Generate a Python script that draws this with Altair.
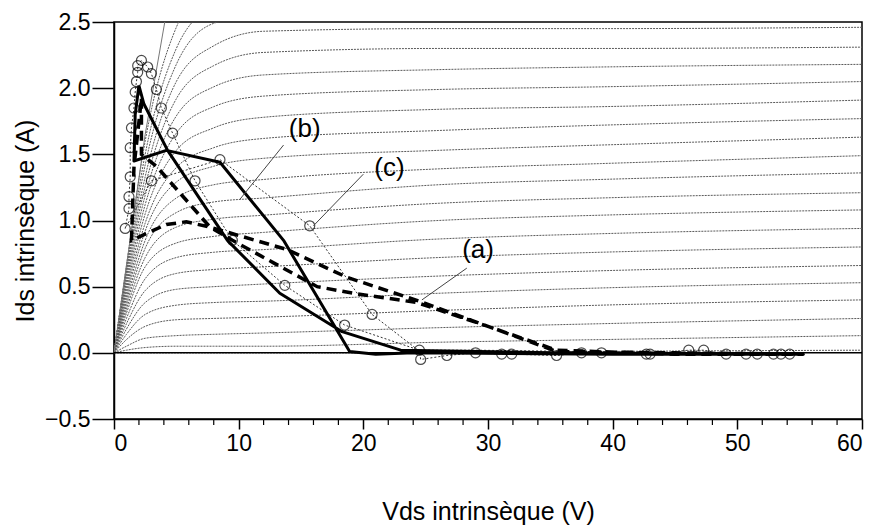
import altair as alt
import pandas as pd

# ---------------- data ----------------
bg_v = [0, 1, 2.5, 5, 8, 12, 26, 39, 60]
bg_curves = [
    [0, 0.00, 0.00, 0.00, 0.00, 0.00, 0.00, 0.01, 0.02],
    [0, 0.02, 0.04, 0.05, 0.05, 0.05, 0.08, 0.10, 0.13],
    [0, 0.05, 0.11, 0.13, 0.14, 0.15, 0.19, 0.22, 0.26],
    [0, 0.10, 0.20, 0.25, 0.26, 0.27, 0.32, 0.36, 0.40],
    [0, 0.14, 0.29, 0.36, 0.38, 0.39, 0.45, 0.49, 0.53],
    [0, 0.18, 0.38, 0.48, 0.50, 0.52, 0.58, 0.62, 0.66],
    [0, 0.22, 0.47, 0.60, 0.63, 0.65, 0.72, 0.76, 0.80],
    [0, 0.26, 0.56, 0.72, 0.76, 0.78, 0.86, 0.90, 0.94],
    [0, 0.30, 0.65, 0.83, 0.88, 0.91, 1.00, 1.04, 1.08],
    [0, 0.33, 0.72, 0.95, 1.01, 1.04, 1.13, 1.17, 1.21],
    [0, 0.36, 0.79, 1.06, 1.14, 1.17, 1.27, 1.31, 1.36],
    [0, 0.39, 0.85, 1.17, 1.27, 1.31, 1.39, 1.43, 1.49],
    [0, 0.42, 0.92, 1.29, 1.41, 1.47, 1.53, 1.57, 1.63],
    [0, 0.45, 0.98, 1.40, 1.55, 1.62, 1.68, 1.72, 1.77],
    [0, 0.48, 1.05, 1.53, 1.70, 1.78, 1.84, 1.86, 1.91],
    [0, 0.51, 1.12, 1.66, 1.86, 1.94, 1.99, 2.01, 2.05],
    [0, 0.54, 1.19, 1.79, 2.01, 2.10, 2.14, 2.16, 2.18],
    [0, 0.57, 1.26, 1.92, 2.17, 2.27, 2.30, 2.30, 2.31],
    [0, 0.60, 1.33, 2.05, 2.32, 2.43, 2.45, 2.45, 2.46],
    [0, 0.62, 1.42, 2.18, 2.49, 2.56, 2.60, 2.61, 2.62],
    [0, 0.64, 1.50, 2.30, 2.62, 2.72, 2.76, 2.77, 2.78],
    [0, 0.66, 1.60, 2.46, 2.80, 2.90, 2.94, 2.95, 2.96],
]
steep_v = [0, 1, 2.5, 5]
steep_i = [0, 0.66, 1.65, 3.0]

# load cycle (a) - dashed
a_v = [2.2, 2.2, 3.4, 7.7, 9.5, 12.8, 16.3, 19.2, 24.3, 30.0, 35.5, 45.0, 55.3,
       45.0, 35.5, 30.0, 24.5, 18.7, 13.9, 7.7, 5.8, 4.2, 1.4, 1.6, 2.2]
a_i = [1.92, 1.50, 1.41, 0.95, 0.85, 0.68, 0.50, 0.45, 0.38, 0.20, 0.02, -0.01, -0.01,
       0.00, 0.01, 0.20, 0.39, 0.57, 0.78, 0.95, 0.99, 0.97, 0.85, 1.40, 1.92]
# load cycle (b) - solid
b_v = [2.0, 2.4, 4.3, 9.1, 13.3, 18.3, 23.0, 35.0, 55.3,
       40.0, 24.0, 21.0, 18.9, 13.6, 8.5, 4.2, 1.6, 1.7, 2.0]
b_i = [2.02, 1.88, 1.53, 0.85, 0.45, 0.16, 0.02, 0.00, -0.01,
       -0.01, 0.00, -0.01, 0.01, 0.85, 1.44, 1.53, 1.45, 1.80, 2.02]
# load cycle (c) - dotted with circles
c_v = [0.9, 1.2, 1.2, 1.3, 1.3, 1.4, 1.6, 1.7, 1.8, 1.9, 1.9, 2.2,
       2.7, 3.0, 3.4, 3.8, 4.7, 6.5, 9.5, 13.7, 18.5, 24.5, 24.6, 26.7, 29.0, 31.1,
       31.9, 35.5, 37.5, 39.1, 42.7, 43.0, 46.1, 47.3, 49.1, 50.7, 51.6, 52.9, 53.5, 54.2,
       29.0, 24.4, 20.7, 15.7, 8.5, 3.0, 0.9]
c_i = [0.94, 1.09, 1.18, 1.33, 1.55, 1.70, 1.85, 1.97, 2.05, 2.12, 2.17, 2.21,
       2.16, 2.11, 1.99, 1.85, 1.66, 1.30, 0.85, 0.51, 0.21, 0.02, -0.05, -0.02, 0.00, -0.01,
       -0.01, -0.02, 0.00, 0.00, -0.01, -0.01, 0.02, 0.02, -0.01, -0.01, -0.01, -0.01, -0.01, -0.01,
       0.02, 0.02, 0.29, 0.96, 1.46, 1.30, 0.94]
c_marker = [1, 1, 1, 1, 1, 1, 1, 1, 1, 1, 1, 1,
            1, 1, 1, 1, 1, 1, 1, 1, 1, 1, 1, 1, 1, 1,
            1, 1, 1, 1, 1, 1, 1, 1, 1, 1, 1, 1, 1, 1,
            0, 0, 1, 1, 1, 1, 0]

labels = ["(a)", "(b)", "(c)"]
label_v = [29.2, 15.3, 22.1]
label_i = [0.78, 1.69, 1.40]
lead_v1 = [28.3, 13.6, 20.0]
lead_i1 = [0.64, 1.57, 1.35]
lead_v2 = [24.7, 10.1, 16.0]
lead_i2 = [0.40, 1.16, 0.96]

x_ticks = [0, 10, 20, 30, 40, 50, 60]
x_minor = [2, 4, 6, 8, 12, 14, 16, 18, 22, 24, 26, 28, 32, 34, 36, 38,
           42, 44, 46, 48, 52, 54, 56, 58]
y_ticks = [-0.5, 0.0, 0.5, 1.0, 1.5, 2.0, 2.5]

# ---------------- tables ----------------
rows = []
for k, curve in enumerate(bg_curves):
    for j, (v, i) in enumerate(zip(bg_v, curve)):
        rows.append({"curve": k, "o": j, "V": v, "I": i})
bg_df = pd.DataFrame(rows)
steep_df = pd.DataFrame({"V": steep_v, "I": steep_i, "o": range(len(steep_v))})
a_df = pd.DataFrame({"V": a_v, "I": a_i, "o": range(len(a_v))})
b_df = pd.DataFrame({"V": b_v, "I": b_i, "o": range(len(b_v))})
c_df = pd.DataFrame({"V": c_v, "I": c_i, "o": range(len(c_v)), "m": c_marker})
lab_df = pd.DataFrame({"t": labels, "V": label_v, "I": label_i})
lead_df = pd.DataFrame({"V": lead_v1, "I": lead_i1, "V2": lead_v2, "I2": lead_i2})
minor_df = pd.DataFrame({"V": x_minor})
zero_df = pd.DataFrame({"V": [0], "V2": [60], "I": [0.0]})

FONT = "Liberation Sans"
xs = alt.Scale(domain=[0, 60], nice=False, zero=False)
ys = alt.Scale(domain=[-0.5, 2.5], nice=False, zero=False)

x_axis = alt.Axis(
    values=x_ticks, format="d", title="Vds intrinsèque (V)", grid=False,
    tickSize=10, labelPadding=3, titlePadding=44, labelFontSize=23, titleFontSize=25,
    labelFont=FONT, titleFont=FONT, titleFontWeight="normal", labelColor="black",
    titleColor="black", domainColor="black", tickColor="black", domainWidth=1.5,
    tickWidth=1.5)
y_axis = alt.Axis(
    values=y_ticks, format=".1f", title="Ids intrinsèque (A)", grid=False,
    tickSize=22, labelPadding=2, titlePadding=6, labelFontSize=23, titleFontSize=25,
    labelFont=FONT, titleFont=FONT, titleFontWeight="normal", labelColor="black",
    titleColor="black", domainColor="black", tickColor="black", domainWidth=1.5,
    tickWidth=1.5)
X = alt.X("V:Q", scale=xs, axis=x_axis)
Y = alt.Y("I:Q", scale=ys, axis=y_axis)

bg = alt.Chart(bg_df).mark_line(
    color="#5a5a5a", strokeWidth=1, strokeDash=[2, 1], interpolate="monotone", clip=True
).encode(x=X, y=Y, detail="curve:N", order="o:Q")

steep = alt.Chart(steep_df).mark_line(
    color="#777777", strokeWidth=1, clip=True
).encode(x=X, y=Y, order="o:Q")

zero = alt.Chart(zero_df).mark_rule(color="black", strokeWidth=1.5).encode(
    x=X, x2="V2:Q", y=Y)

minor = alt.Chart(minor_df).mark_rule(color="black", strokeWidth=1.2).encode(
    x=X, y=alt.value(397), y2=alt.value(403))

line_c = alt.Chart(c_df).mark_line(
    color="#333333", strokeWidth=1, strokeDash=[2, 2], clip=True
).encode(x=X, y=Y, order="o:Q")
pts_c = alt.Chart(c_df).transform_filter("datum.m == 1").mark_point(
    shape="circle", filled=False, color="black", size=100, strokeWidth=1.2, clip=True
).encode(x=X, y=Y)

line_b = alt.Chart(b_df).mark_line(
    color="black", strokeWidth=3, clip=True, strokeJoin="round"
).encode(x=X, y=Y, order="o:Q")
line_a = alt.Chart(a_df).mark_line(
    color="black", strokeWidth=3.5, strokeDash=[10, 6], clip=True
).encode(x=X, y=Y, order="o:Q")

leads = alt.Chart(lead_df).mark_rule(color="#444444", strokeWidth=1).encode(
    x=X, y=Y, x2="V2:Q", y2="I2:Q")
texts = alt.Chart(lab_df).mark_text(
    font=FONT, fontSize=26, color="black", align="center", baseline="middle"
).encode(x=X, y=Y, text="t:N")

chart = alt.layer(
    bg, steep, zero, minor, line_c, pts_c, line_a, line_b, leads, texts
).properties(
    width=748, height=397,
    autosize=alt.AutoSizeParams(type="none"),
    padding={"left": 114, "top": 22, "right": 17, "bottom": 112},
    background="white",
).configure_view(stroke="black", strokeWidth=1.5)

chart.save("out.html", embed_options={"renderer": "svg", "actions": False})
